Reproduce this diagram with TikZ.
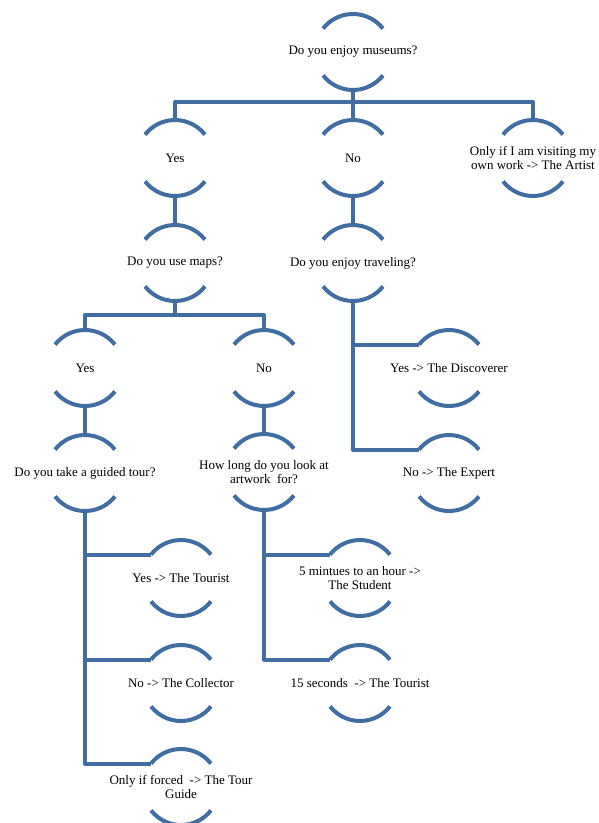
\documentclass[tikz,border=0pt]{standalone}
\usepackage{fontspec}
\setmainfont{Liberation Serif}
\usetikzlibrary{calc}
\definecolor{stemblue}{RGB}{64,110,162}
\tikzset{
  bracket/.style={circle, minimum size=76pt, inner sep=0pt, outer sep=0pt},
  lbl/.style={align=center, inner sep=0pt, font=\fontsize{13}{13.5}\selectfont},
  link/.style={draw=stemblue, line width=4pt, line join=round},
}
\begin{document}
\begin{tikzpicture}[x=1pt, y=1pt]
            \useasboundingbox (0,0) rectangle (599,-823);
            \node[bracket, label={[lbl]center:Do you enjoy museums?}] (q1) at (353,-52) {};
            \node[bracket, label={[lbl]center:Yes}] (a1) at (175,-158) {};
            \node[bracket, label={[lbl]center:No}] (a2) at (353,-158) {};
            \node[bracket, label={[lbl]center:{Only if I am visiting my\\own work -> The Artist}}] (a3) at (533,-158) {};
            \node[bracket, label={[lbl]center:Do you use maps?}] (q2) at (175,-263) {};
            \node[bracket, label={[lbl]center:Do you enjoy traveling?}] (q3) at (353,-263) {};
            \node[bracket, label={[lbl]center:Yes}] (b1) at (85,-368) {};
            \node[bracket, label={[lbl]center:No}] (b2) at (264,-368) {};
            \node[bracket, label={[lbl]center:Yes -> The Discoverer}] (r1) at (449,-368) {};
            \node[bracket, label={[lbl]center:No -> The Expert}] (r2) at (449,-473) {};
            \node[bracket, label={[lbl]center:Do you take a guided tour?}] (q4) at (85,-473) {};
            \node[bracket, label={[lbl]center:{How long do you look at\\artwork~ for?}}] (q5) at (264,-472) {};
            \node[bracket, label={[lbl]center:Yes -> The Tourist}] (t1) at (181,-578) {};
            \node[bracket, label={[lbl]center:No -> The Collector}] (t2) at (181,-683) {};
            \node[bracket, label={[lbl]center:{Only if forced~ -> The Tour\\Guide}}] (t3) at (181,-787) {};
            \node[bracket, label={[lbl]center:{5 mintues to an hour ->\\The Student}}] (s1) at (360,-578) {};
            \node[bracket, label={[lbl]center:15 seconds~ -> The Tourist}] (s2) at (360,-683) {};
            \foreach \n in {q1,a1,a2,a3,q2,q3,b1,b2,r1,r2,q4,q5,t1,t2,t3,s1,s2} {
                \draw[link] (\n.38) arc[start angle=38, end angle=142, radius=38pt];
                \draw[link] (\n.218) arc[start angle=218, end angle=322, radius=38pt];
            }
            \draw[link] (q1.south) -- (a2.north);
            \draw[link] (a1.north) -- ++(0,18) -| (a3.north);
            \draw[link] (a1.south) -- (q2.north);
            \draw[link] (a2.south) -- (q3.north);
            \draw[link] (q2.south) -- ++(0,-14);
            \draw[link] (b1.north) -- ++(0,15) -| (b2.north);
            \draw[link] (b1.south) -- (q4.north);
            \draw[link] (b2.south) -- (q5.north);
            \draw[link] (q3.south) |- (r1.142);
            \draw[link] (q3.south) |- (r2.142);
            \draw[link] (q4.south) |- (t1.142);
            \draw[link] (q4.south) |- (t2.142);
            \draw[link] (q4.south) |- (t3.142);
            \draw[link] (q5.south) |- (s1.142);
            \draw[link] (q5.south) |- (s2.142);
        \end{tikzpicture}
\end{document}
